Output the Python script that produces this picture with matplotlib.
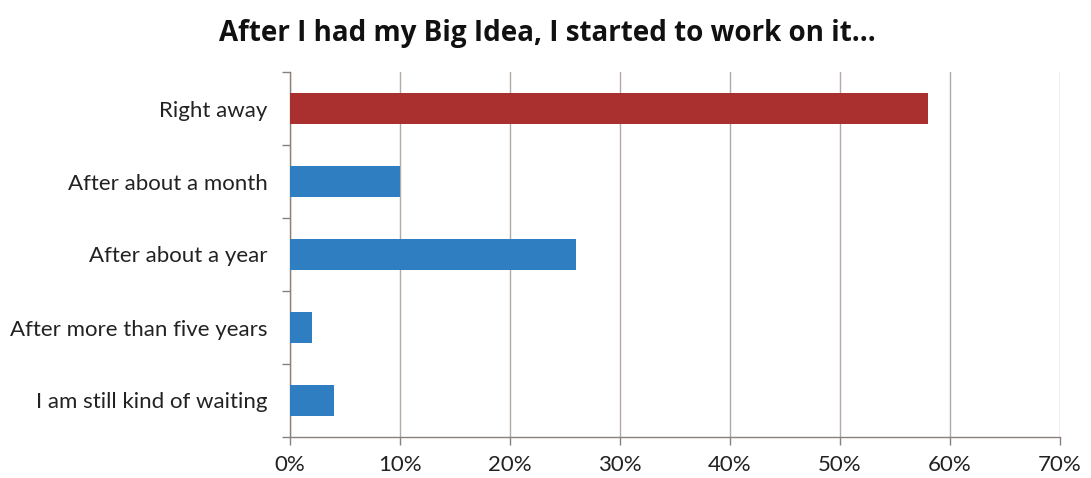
import numpy as np
import matplotlib.pyplot as plt

plt.rcParams['font.family'] = ['Lato', 'DejaVu Sans']

# data
categories = ['Right away', 'After about a month', 'After about a year',
              'After more than five years', 'I am still kind of waiting']
values = [58, 10, 26, 2, 4]
colors = ['#A9302E', '#2F7EC1', '#2F7EC1', '#2F7EC1', '#2F7EC1']
xticks = [0, 10, 20, 30, 40, 50, 60, 70]

fig = plt.figure(figsize=(10.91, 4.78), dpi=100)
ax = fig.add_axes([290 / 1091, 1 - 437 / 478, 770 / 1091, 365 / 478])

y = np.arange(len(categories))
ax.barh(y, values, height=0.42, color=colors, zorder=3)

ax.set_xlim(0, 70)
ax.set_ylim(len(categories) - 0.5, -0.5)
ax.set_xticks(xticks)
ax.set_xticklabels([f'{t}%' for t in xticks], fontsize=16, color='#222222')
ax.set_yticks(y)
ax.set_yticklabels(categories, fontsize=16, color='#222222')
ax.tick_params(axis='y', which='major', length=0, pad=16)
ax.set_yticks(np.arange(-0.5, len(categories)), minor=True)
ax.tick_params(axis='y', which='minor', length=6, color='#8a817c', width=1)
ax.tick_params(axis='x', length=6, color='#8a817c', width=1, pad=7)

ax.grid(axis='x', color='#b3aaa5', linewidth=1, zorder=0)
for s in ['top', 'right']:
    ax.spines[s].set_visible(False)
for s in ['left', 'bottom']:
    ax.spines[s].set_color('#8a817c')
    ax.spines[s].set_linewidth(1)

fig.suptitle('After I had my Big Idea, I started to work on it...', x=0.502, y=0.96,
             fontsize=20, fontweight='bold', color='#111111',
             family=['Open Sans', 'DejaVu Sans'])

fig.savefig('out.png', dpi=100)
